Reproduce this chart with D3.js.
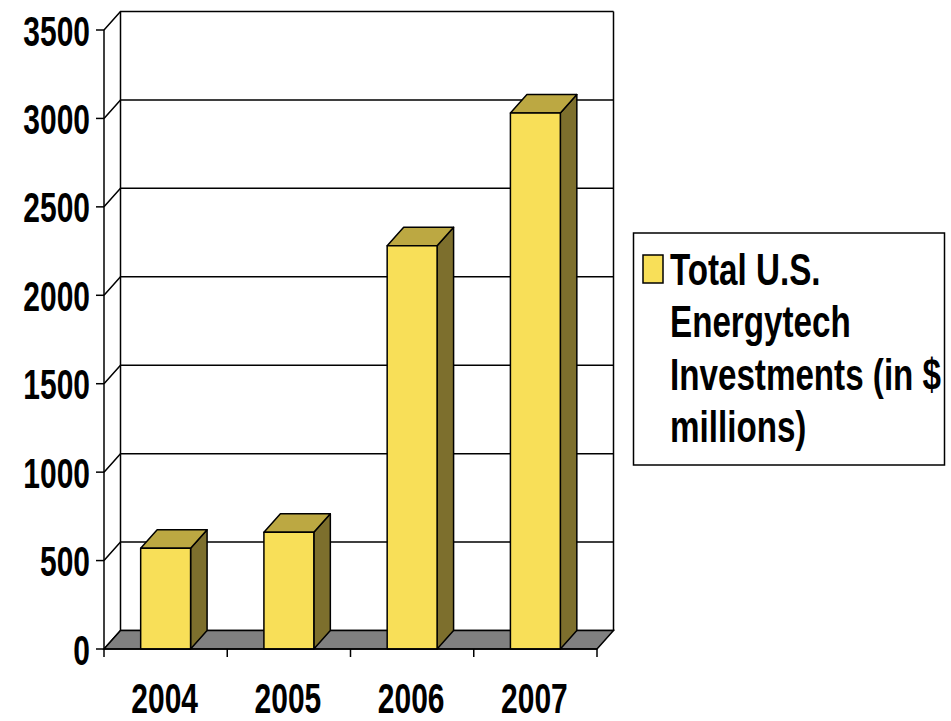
<!DOCTYPE html>
<html lang="en">
<head>
  <meta charset="UTF-8">
  <title>Total U.S. Energytech Investments</title>
  <script src="https://d3js.org/d3.v7.min.js"></script>
  <style>
    body { margin: 0; background: #fff; }
    svg text { font-family: "Liberation Sans", Arial, sans-serif; font-weight: bold; fill: #000; }
  </style>
</head>
<body>
  <svg width="951" height="721"></svg>
  <script>
    // data
    const years = ["2004", "2005", "2006", "2007"];
    const investments = [570, 660, 2280, 3030];
    const yTicks = [0, 500, 1000, 1500, 2000, 2500, 3000, 3500];
    const legendLines = ["Total U.S.", "Energytech", "Investments (in $", "millions)"];

    const svg = d3.select("svg");
    const plotLeft = 104, plotRight = 597, base = 649, plotTop = 30;
    const dx = 16.5, dy = -18.5;   // 3d depth offset

    const x = d3.scaleBand().domain(years).range([plotLeft, plotRight]);
    const y = d3.scaleLinear().domain([0, 3500]).range([base, plotTop]);
    const barW = x.bandwidth() * 0.405;

    // narrow bold look: squeeze horizontally, stretch a bit vertically
    function label(g, tx, ty, txt, anchor, size, sx, sy) {
      g.append("text")
        .attr("transform", `translate(${tx},${ty}) scale(${sx},${sy})`)
        .attr("text-anchor", anchor)
        .attr("font-size", size)
        .text(txt);
    }

    // back wall gridlines
    const grid = svg.append("g").attr("stroke", "#000").attr("stroke-width", 1.5).attr("fill", "none");
    yTicks.forEach(t => {
      grid.append("path").attr("d", `M${plotLeft},${y(t)}L${plotLeft + dx},${y(t) + dy}L${plotRight + dx},${y(t) + dy}`);
    });
    grid.append("line").attr("x1", plotLeft + dx).attr("x2", plotLeft + dx).attr("y1", y(3500) + dy).attr("y2", base + dy);
    grid.append("line").attr("x1", plotRight + dx).attr("x2", plotRight + dx).attr("y1", y(3500) + dy).attr("y2", base + dy);

    // floor
    svg.append("path")
      .attr("d", `M${plotLeft},${base}L${plotRight},${base}L${plotRight + dx},${base + dy}L${plotLeft + dx},${base + dy}Z`)
      .attr("fill", "#808080").attr("stroke", "#000").attr("stroke-width", 1.5);

    // bars
    const bars = svg.append("g").attr("stroke", "#000").attr("stroke-width", 1.5).attr("stroke-linejoin", "round");
    years.forEach((yr, i) => {
      const x0 = x(yr) + (x.bandwidth() - barW) / 2, x1 = x0 + barW;
      const yt = y(investments[i]);
      bars.append("path")
        .attr("d", `M${x1},${base}L${x1 + dx},${base + dy}L${x1 + dx},${yt + dy}L${x1},${yt}Z`)
        .attr("fill", "#7d6f2d");
      bars.append("path")
        .attr("d", `M${x0},${yt}L${x0 + dx},${yt + dy}L${x1 + dx},${yt + dy}L${x1},${yt}Z`)
        .attr("fill", "#bca842");
      bars.append("rect")
        .attr("x", x0).attr("y", yt).attr("width", barW).attr("height", base - yt)
        .attr("fill", "#f8df58");
    });

    // front axes
    const ax = svg.append("g").attr("stroke", "#000").attr("stroke-width", 1.5);
    ax.append("line").attr("x1", plotLeft).attr("x2", plotLeft).attr("y1", plotTop).attr("y2", base);
    ax.append("line").attr("x1", plotLeft).attr("x2", plotRight).attr("y1", base).attr("y2", base);
    yTicks.forEach(t => ax.append("line").attr("x1", plotLeft - 8).attr("x2", plotLeft).attr("y1", y(t)).attr("y2", y(t)));
    [plotLeft].concat(years.map(yr => x(yr) + x.bandwidth())).forEach(v =>
      ax.append("line").attr("x1", v).attr("x2", v).attr("y1", base).attr("y2", base + 8));

    const labels = svg.append("g");
    yTicks.forEach(t => label(labels, 90, y(t) + 15.5, t, "end", 37, 0.81, 1.15));
    years.forEach(yr => label(labels, x(yr) + x.bandwidth() / 2 - 1, 713, yr, "middle", 37, 0.81, 1.15));

    // legend
    const lg = svg.append("g");
    lg.append("rect").attr("x", 633.5).attr("y", 233).attr("width", 311).attr("height", 232)
      .attr("fill", "#fff").attr("stroke", "#000").attr("stroke-width", 1.5);
    lg.append("rect").attr("x", 643).attr("y", 255).attr("width", 20).attr("height", 28)
      .attr("fill", "#f8df58").attr("stroke", "#000").attr("stroke-width", 1.5);
    legendLines.forEach((s, i) => label(lg, 670, 285 + i * 52.3, s, "start", 40, 0.83, 1.12));
  </script>
</body>
</html>
